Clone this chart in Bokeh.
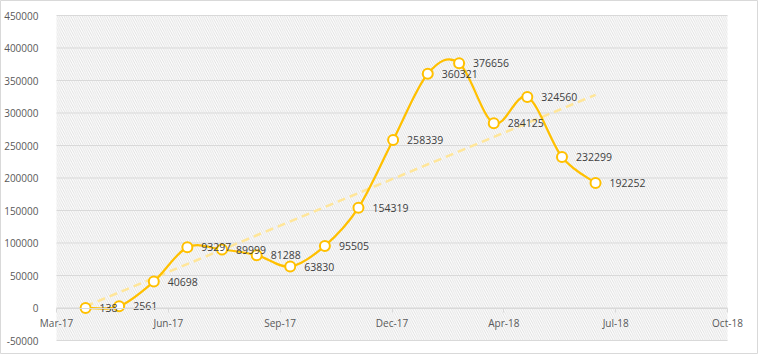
import numpy as np
from datetime import datetime
from bokeh.plotting import figure
from bokeh.models import BoxAnnotation, FixedTicker, ColumnDataSource, NumeralTickFormatter
from bokeh.core.properties import value
from bokeh.embed import file_html
from bokeh.resources import INLINE

# ---- data ----
dates = ["2017-03-31", "2017-04-30", "2017-05-31", "2017-06-30", "2017-07-31", "2017-08-31",
         "2017-09-30", "2017-10-31", "2017-11-30", "2017-12-31", "2018-01-31", "2018-02-28",
         "2018-03-31", "2018-04-30", "2018-05-31", "2018-06-30"]
values = [138, 2561, 40698, 93297, 89999, 81288, 63830, 95505, 154319, 258339,
          360321, 376656, 284125, 324560, 232299, 192252]
tick_dates = ["2017-03-05", "2017-06-13", "2017-09-21", "2017-12-30",
              "2018-04-09", "2018-07-18", "2018-10-26"]
tick_labels = ["Mar-17", "Jun-17", "Sep-17", "Dec-17", "Apr-18", "Jul-18", "Oct-18"]
y_ticks = [-50000, 0, 50000, 100000, 150000, 200000, 250000, 300000, 350000, 400000, 450000]

FONT = "Open Sans"
LINE = "#FFC000"
GRID = "#d9d9d9"
W, H = 758, 354
PL, PR, PT, PB = 56, 727, 15, 340   # plot-area pixel box inside the figure

def to_ms(s):
    return (datetime.strptime(s, "%Y-%m-%d") - datetime(1970, 1, 1)).total_seconds() * 1000.0

xs = np.array([to_ms(d) for d in dates])
ys = np.array(values, dtype=float)
txs = [to_ms(d) for d in tick_dates]

# frame fills the figure; ranges extended so that the plot area lands on PL..PR / PT..PB
xs_per_px = (txs[-1] - txs[0]) / (PR - PL)
ys_per_px = (y_ticks[-1] - y_ticks[0]) / (PB - PT)
x_range = (txs[0] - PL * xs_per_px, txs[-1] + (W - PR) * xs_per_px)
y_range = (y_ticks[0] - (H - PB) * ys_per_px, y_ticks[-1] + PT * ys_per_px)

p = figure(width=W, height=H, output_backend="svg", toolbar_location=None,
           x_range=x_range, y_range=y_range,
           min_border_left=0, min_border_right=0, min_border_top=0, min_border_bottom=0)
p.outline_line_color = GRID
p.outline_line_width = 1
p.background_fill_color = "white"
p.border_fill_color = "white"

# hatch background over the plot area
p.add_layout(BoxAnnotation(left=txs[0], right=txs[-1], bottom=y_ticks[0], top=y_ticks[-1],
                           fill_alpha=0, line_alpha=0, hatch_pattern="left_diagonal_line",
                           hatch_color="#d6d6d6", hatch_scale=4.5, hatch_weight=0.8, level="image"))

# horizontal gridlines limited to the plot area
p.xgrid.grid_line_color = None
p.ygrid.grid_line_color = None
p.segment(x0=[txs[0]] * len(y_ticks), x1=[txs[-1]] * len(y_ticks), y0=y_ticks, y1=y_ticks,
          line_color=GRID, line_width=1)

# y axis on the left edge of the plot area
p.yaxis.fixed_location = txs[0]
p.yaxis.ticker = FixedTicker(ticks=y_ticks)
p.yaxis.formatter = NumeralTickFormatter(format="0")
p.yaxis.axis_line_color = None
p.yaxis.major_tick_line_color = None
p.yaxis.minor_tick_line_color = None
p.yaxis.major_label_standoff = 12
p.yaxis.major_label_text_font = FONT
p.yaxis.major_label_text_font_size = "10px"
p.yaxis.major_label_text_color = "#595959"

# x axis on the zero line
p.xaxis.fixed_location = 0
p.xaxis.bounds = (txs[0], txs[-1])
p.xaxis.ticker = FixedTicker(ticks=txs)
p.xaxis.major_label_overrides = {t: lab for t, lab in zip(txs, tick_labels)}
p.xaxis.axis_line_color = GRID
p.xaxis.major_tick_line_color = GRID
p.xaxis.major_tick_in = 0
p.xaxis.major_tick_out = 4
p.xaxis.minor_tick_line_color = None
p.xaxis.major_label_standoff = 4
p.xaxis.major_label_text_font = FONT
p.xaxis.major_label_text_font_size = "10px"
p.xaxis.major_label_text_color = "#595959"

# linear trendline (fit of the data)
k, b = np.polyfit(xs, ys, 1)
p.line([xs[0], xs[-1]], [k * xs[0] + b, k * xs[-1] + b], line_color="#FFE699",
       line_width=2.5, line_dash="8 5")

# smoothed line (Catmull-Rom -> Bezier)
px = np.concatenate([[xs[0]], xs, [xs[-1]]])
py = np.concatenate([[ys[0]], ys, [ys[-1]]])
n = len(xs)
x0, y0 = xs[:-1], ys[:-1]
x1, y1 = xs[1:], ys[1:]
cx0 = xs[:-1] + (px[2:n + 1] - px[0:n - 1]) / 6.0
cy0 = ys[:-1] + (py[2:n + 1] - py[0:n - 1]) / 6.0
cx1 = xs[1:] - (px[3:n + 2] - px[1:n]) / 6.0
cy1 = ys[1:] - (py[3:n + 2] - py[1:n]) / 6.0
p.bezier(x0=x0, y0=y0, x1=x1, y1=y1, cx0=cx0, cy0=cy0, cx1=cx1, cy1=cy1,
         line_color=LINE, line_width=2.25)

p.scatter(xs, ys, size=10, fill_color="white", line_color=LINE, line_width=2)

lab_src = ColumnDataSource(dict(x=xs, y=ys, t=[str(v) for v in values]))
p.text(x="x", y="y", text="t", source=lab_src, x_offset=14, text_align="left",
       text_baseline="middle", text_font=value(FONT), text_font_size="10.5px", text_color="#404040")

open("out.html", "w").write(file_html(p, INLINE))
